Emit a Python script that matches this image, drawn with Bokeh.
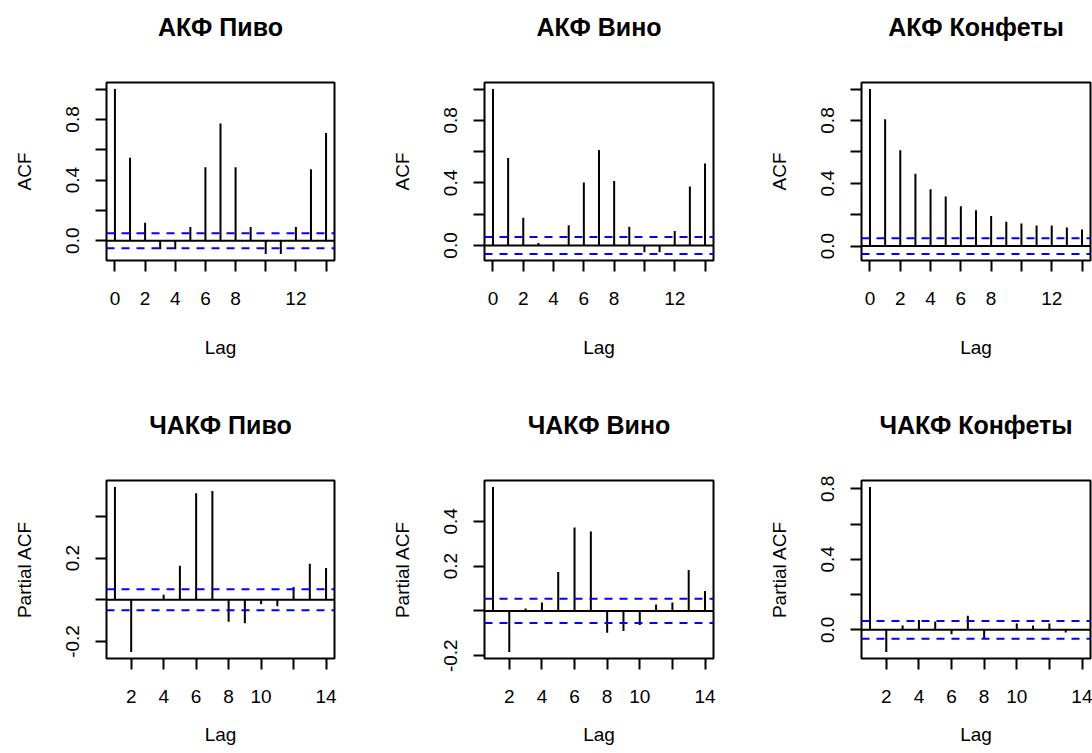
from bokeh.plotting import figure
from bokeh.layouts import gridplot
from bokeh.models import Span, FixedTicker, Range1d, LinearAxis
from bokeh.embed import file_html
from bokeh.resources import INLINE

# ---- data ----
lags_acf = list(range(0, 15))
lags_pacf = list(range(1, 15))

acf_beer = [1.0, 0.547, 0.118, -0.056, -0.056, 0.091, 0.484, 0.773, 0.484, 0.091, -0.087, -0.087, 0.091, 0.471, 0.711]
acf_wine = [1.0, 0.560, 0.177, 0.015, 0.0, 0.129, 0.403, 0.610, 0.412, 0.119, -0.043, -0.043, 0.093, 0.377, 0.524]
acf_candy = [1.0, 0.808, 0.610, 0.461, 0.362, 0.315, 0.254, 0.228, 0.192, 0.155, 0.144, 0.131, 0.131, 0.119, 0.106]

pacf_beer = [0.540, -0.250, 0.0, 0.024, 0.163, 0.511, 0.521, -0.105, -0.113, -0.021, -0.031, 0.061, 0.173, 0.152]
pacf_wine = [0.553, -0.183, 0.011, 0.038, 0.174, 0.373, 0.355, -0.098, -0.090, -0.063, 0.029, 0.038, 0.183, 0.089]
pacf_candy = [0.810, -0.125, 0.025, 0.056, 0.048, -0.025, 0.080, -0.048, 0.0, 0.036, 0.025, 0.036, -0.015, 0.0]

ci_beer = 0.050
ci_wine = 0.054
ci_candy = 0.050

titles_acf = ["АКФ Пиво", "АКФ Вино", "АКФ Конфеты"]
titles_pacf = ["ЧАКФ Пиво", "ЧАКФ Вино", "ЧАКФ Конфеты"]

xticks_acf = [0, 2, 4, 6, 8, 10, 12, 14]
xlabels_acf = {0: "0", 2: "2", 4: "4", 6: "6", 8: "8", 10: "", 12: "12", 14: ""}
xticks_pacf = [2, 4, 6, 8, 10, 12, 14]
xlabels_pacf = {2: "2", 4: "4", 6: "6", 8: "8", 10: "10", 12: "", 14: "14"}

yticks_acf = [0.0, 0.2, 0.4, 0.6, 0.8, 1.0]
ylabels_acf = {0.0: "0.0", 0.2: "", 0.4: "0.4", 0.6: "", 0.8: "0.8", 1.0: ""}
yticks_pacf_beer = [-0.2, 0.0, 0.2, 0.4]
ylabels_pacf_beer = {-0.2: "-0.2", 0.0: "", 0.2: "0.2", 0.4: ""}
yticks_pacf_wine = [-0.2, 0.0, 0.2, 0.4]
ylabels_pacf_wine = {-0.2: "-0.2", 0.0: "", 0.2: "0.2", 0.4: "0.4"}
yticks_pacf_candy = [0.0, 0.2, 0.4, 0.6, 0.8]
ylabels_pacf_candy = {0.0: "0.0", 0.2: "", 0.4: "0.4", 0.6: "", 0.8: "0.8"}

FONT = "Liberation Sans"

# column geometry: (figure width, left border, frame width, right border)
cols = [(388, 106, 228, 54), (368, 96, 229, 43), (336, 105, 229, 2)]
# row geometry: (figure height, top border, frame height, bottom border)
rows = [(398, 82, 178, 138), (355, 82, 178, 95)]


def make_panel(title, lags, vals, ci, xticks, xlabels, yticks, ylabels, ylabel, col, rowg, top_row):
    fw, bl, frw, br = col
    fh, bt, frh, bb = rowg
    lo = min(min(vals), -ci)
    hi = max(max(vals), ci)
    pad = 0.04 * (hi - lo)
    xpad = 0.04 * (lags[-1] - lags[0])
    x0, x1 = lags[0] - xpad, lags[-1] + xpad
    p = figure(width=fw, height=fh, output_backend="svg", toolbar_location=None,
               x_range=Range1d(x0, x1),
               y_range=Range1d(lo - pad, hi + pad),
               min_border_left=bl, min_border_right=br,
               min_border_top=bt, min_border_bottom=bb)
    p.background_fill_color = "white"
    p.border_fill_color = "white"
    p.outline_line_color = "black"
    p.outline_line_width = 2
    p.xgrid.visible = False
    p.ygrid.visible = False

    xax = p.below[0]
    yax = p.left[0]
    for ax in (xax, yax):
        ax.axis_line_color = None
        ax.major_tick_in = 0
        ax.major_tick_out = 11
        ax.major_tick_line_width = 2
        ax.major_tick_line_color = "black"
        ax.minor_tick_line_color = None
        ax.major_label_text_font = FONT
        ax.major_label_text_font_size = "19px"
        ax.major_label_text_color = "black"
        ax.axis_label_text_font = FONT
        ax.axis_label_text_font_size = "19px"
        ax.axis_label_text_font_style = "normal"
        ax.axis_label_text_color = "black"

    xax.ticker = FixedTicker(ticks=xticks)
    xax.major_label_overrides = xlabels
    xax.axis_label = "Lag"
    xax.major_label_standoff = 20
    xax.axis_label_standoff = 29 if top_row else 18

    yax.ticker = FixedTicker(ticks=yticks)
    yax.major_label_overrides = ylabels
    yax.major_label_orientation = "vertical"
    yax.axis_label = ylabel
    yax.major_label_standoff = 16
    yax.axis_label_standoff = 29

    # panel title: label of a tick-less axis above the plot box
    tax = LinearAxis(ticker=FixedTicker(ticks=[]), axis_label=title,
                     axis_line_color=None, major_tick_out=0, major_tick_in=0,
                     minor_tick_line_color=None,
                     axis_label_text_font=FONT, axis_label_text_font_size="25px",
                     axis_label_text_font_style="bold", axis_label_text_color="black",
                     axis_label_standoff=42)
    p.add_layout(tax, "above")

    p.add_layout(Span(location=0, dimension="width", line_color="black", line_width=2))
    for c in (ci, -ci):
        p.add_layout(Span(location=c, dimension="width", line_color="#0000ff",
                          line_width=2, line_dash="8 7"))
    p.segment(x0=lags, y0=[0] * len(lags), x1=lags, y1=vals,
              line_color="black", line_width=2)
    return p


acf_data = [(acf_beer, ci_beer), (acf_wine, ci_wine), (acf_candy, ci_candy)]
pacf_data = [(pacf_beer, ci_beer, yticks_pacf_beer, ylabels_pacf_beer),
             (pacf_wine, ci_wine, yticks_pacf_wine, ylabels_pacf_wine),
             (pacf_candy, ci_candy, yticks_pacf_candy, ylabels_pacf_candy)]

top = [make_panel(titles_acf[i], lags_acf, acf_data[i][0], acf_data[i][1],
                  xticks_acf, xlabels_acf, yticks_acf, ylabels_acf, "ACF",
                  cols[i], rows[0], True) for i in range(3)]
bottom = [make_panel(titles_pacf[i], lags_pacf, pacf_data[i][0], pacf_data[i][1],
                     xticks_pacf, xlabels_pacf, pacf_data[i][2], pacf_data[i][3], "Partial ACF",
                     cols[i], rows[1], False) for i in range(3)]

grid = gridplot([top, bottom], toolbar_location=None)

open("out.html", "w").write(file_html(grid, INLINE))
